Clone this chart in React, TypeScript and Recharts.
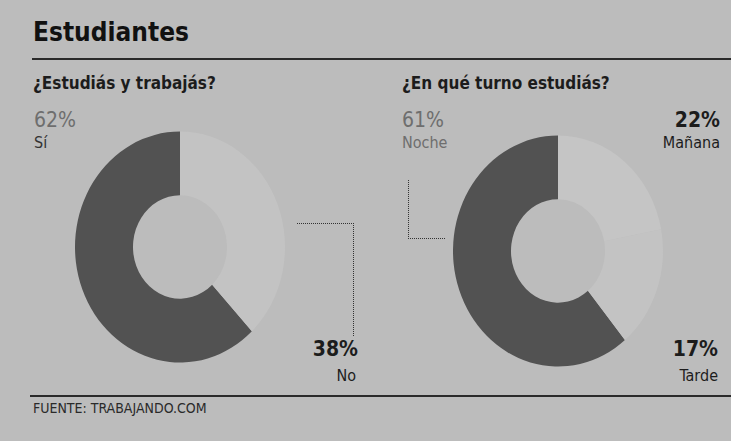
import { PieChart, Pie, Cell } from 'recharts';

// ¿Estudiás y trabajás?
const trabajaLabels = ['Sí', 'No'];
const trabajaValues = [62, 38];

// ¿En qué turno estudiás?  (order = drawing order, counter-clockwise from the top)
const turnoLabels = ['Noche', 'Tarde', 'Mañana'];
const turnoValues = [61, 17, 22];

const trabajaData = trabajaLabels.map((name, i) => ({ name, value: trabajaValues[i] }));
const turnoData = turnoLabels.map((name, i) => ({ name, value: turnoValues[i] }));

const BG = '#bcbcbc';
const DARK = '#525252';
const LIGHTS = ['#c3c3c3', '#c5c5c5'];
const FONT = '"Liberation Sans Narrow", "DejaVu Sans Condensed", "Roboto", sans-serif';

const SIZE = 230;

function Donut({ data, left, top }: { data: { name: string; value: number }[]; left: number; top: number }) {
  return (
    <div
      style={{
        position: 'absolute',
        left,
        top,
        width: SIZE,
        height: SIZE,
        transform: 'scaleY(1.1)',
        transformOrigin: 'center',
      }}
    >
      <PieChart width={SIZE} height={SIZE} margin={{ top: 0, right: 0, bottom: 0, left: 0 }}>
        <Pie
          data={data}
          dataKey="value"
          nameKey="name"
          cx="50%"
          cy="50%"
          startAngle={90}
          endAngle={450}
          innerRadius={47}
          outerRadius={105}
          stroke="none"
          isAnimationActive={false}
        >
          {data.map((d, i) => (
            <Cell key={d.name} fill={i === 0 ? DARK : LIGHTS[(i - 1) % LIGHTS.length]} />
          ))}
        </Pie>
      </PieChart>
    </div>
  );
}

function Txt({
  children,
  left,
  right,
  top,
  size,
  bold,
  color = '#1c1c1c',
}: {
  children: React.ReactNode;
  left?: number;
  right?: number;
  top: number;
  size: number;
  bold?: boolean;
  color?: string;
}) {
  return (
    <div
      style={{
        position: 'absolute',
        left,
        right,
        top,
        fontSize: size,
        lineHeight: 1,
        fontWeight: bold ? 700 : 400,
        color,
        whiteSpace: 'nowrap',
        textAlign: right != null ? 'right' : 'left',
      }}
    >
      {children}
    </div>
  );
}

export default function App() {
  return (
    <div
      style={{
        position: 'absolute',
        left: 0,
        top: 0,
        width: 731,
        height: 441,
        background: BG,
        fontFamily: FONT,
        overflow: 'hidden',
      }}
    >
      <Txt left={33} top={19} size={26} bold color="#111">
        Estudiantes
      </Txt>
      <div style={{ position: 'absolute', left: 32, right: 0, top: 58, height: 2, background: '#2a2a2a' }} />

      <Txt left={33} top={75} size={17} bold>
        ¿Estudiás y trabajás?
      </Txt>
      <Txt left={402} top={75} size={17} bold>
        ¿En qué turno estudiás?
      </Txt>

      <Donut data={trabajaData} left={180 - SIZE / 2} top={247 - SIZE / 2} />
      <Donut data={turnoData} left={558 - SIZE / 2} top={251 - SIZE / 2} />

      {/* leader lines */}
      <div
        style={{
          position: 'absolute',
          left: 297,
          top: 223,
          width: 56,
          height: 112,
          borderTop: '1px dotted #333',
          borderRight: '1px dotted #333',
        }}
      />
      <div
        style={{
          position: 'absolute',
          left: 408,
          top: 180,
          width: 36,
          height: 58,
          borderLeft: '1px dotted #333',
          borderBottom: '1px dotted #333',
        }}
      />

      {/* left donut labels */}
      <Txt left={34} top={110} size={21} color="#6e6e6e">
        {trabajaValues[0]}%
      </Txt>
      <Txt left={34} top={135} size={16} color="#333">
        {trabajaLabels[0]}
      </Txt>
      <Txt right={731 - 358} top={339} size={21} bold>
        {trabajaValues[1]}%
      </Txt>
      <Txt right={731 - 356} top={368} size={16}>
        {trabajaLabels[1]}
      </Txt>

      {/* right donut labels */}
      <Txt left={402} top={110} size={21} color="#6e6e6e">
        {turnoValues[0]}%
      </Txt>
      <Txt left={402} top={135} size={16} color="#6e6e6e">
        {turnoLabels[0]}
      </Txt>
      <Txt right={731 - 720} top={110} size={21} bold>
        {turnoValues[2]}%
      </Txt>
      <Txt right={731 - 720} top={135} size={16}>
        {turnoLabels[2]}
      </Txt>
      <Txt right={731 - 718} top={339} size={21} bold>
        {turnoValues[1]}%
      </Txt>
      <Txt right={731 - 718} top={368} size={16}>
        {turnoLabels[1]}
      </Txt>

      <div style={{ position: 'absolute', left: 30, right: 0, top: 395, height: 2, background: '#2a2a2a' }} />
      <Txt left={33} top={401} size={14} color="#2a2a2a">
        FUENTE: TRABAJANDO.COM
      </Txt>
    </div>
  );
}
